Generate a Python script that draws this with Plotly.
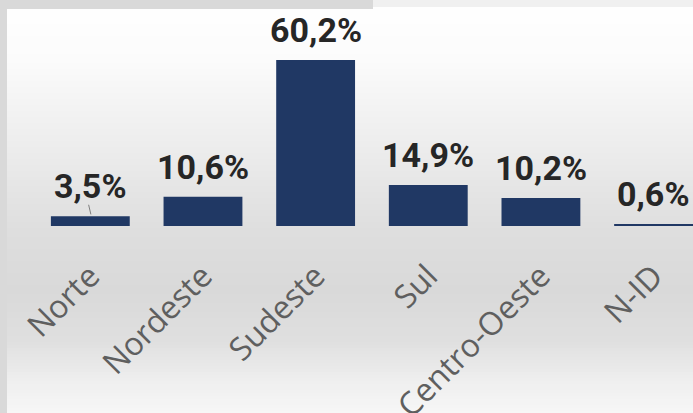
import plotly.graph_objects as go

# regions and share of total (%)
regioes = ["Norte", "Nordeste", "Sudeste", "Sul", "Centro-Oeste", "N-ID"]
percentuais = [3.5, 10.6, 60.2, 14.9, 10.2, 0.6]
rotulos = ["3,5%", "10,6%", "60,2%", "14,9%", "10,2%", "0,6%"]

W, H = 693, 413
ML, MB = 34, 187          # plot area: baseline sits at y = H - MB
plot_w, plot_h = W - ML, H - MB

# vertical background gradient (pixel row -> grey level)
stops = [(0, 255), (60, 251), (150, 236), (230, 222), (290, 217),
         (340, 223), (380, 238), (413, 247)]


def grey_at(p):
    for (a, ga), (b, gb) in zip(stops, stops[1:]):
        if a <= p <= b:
            g = ga + (gb - ga) * (p - a) / (b - a)
            return int(round(g))
    return stops[-1][1]


def px_to_paper_y(p):
    return (plot_h - p) / plot_h


def px_to_paper_x(p):
    return (p - ML) / plot_w


shapes = []
step = 3
for p in range(0, H, step):
    g = grey_at(p + step / 2)
    shapes.append(dict(
        type="rect", xref="paper", yref="paper", layer="below",
        x0=px_to_paper_x(7), x1=1.0,
        y0=px_to_paper_y(p + step), y1=px_to_paper_y(p),
        fillcolor=f"rgb({g},{g},{g})", line_width=0,
    ))

# window frame strips (top / left)
shapes.append(dict(type="rect", xref="paper", yref="paper", layer="below",
                   x0=px_to_paper_x(0), x1=px_to_paper_x(7),
                   y0=px_to_paper_y(H), y1=px_to_paper_y(0),
                   fillcolor="#d9d9d9", line_width=0))
shapes.append(dict(type="rect", xref="paper", yref="paper", layer="below",
                   x0=px_to_paper_x(0), x1=px_to_paper_x(373),
                   y0=px_to_paper_y(9), y1=px_to_paper_y(0),
                   fillcolor="#d9d9d9", line_width=0))
shapes.append(dict(type="rect", xref="paper", yref="paper", layer="below",
                   x0=px_to_paper_x(373), x1=1.0,
                   y0=px_to_paper_y(7), y1=px_to_paper_y(0),
                   fillcolor="#f0f0f0", line_width=0))

# small leader line between the "Norte" label and its bar
i_norte = regioes.index("Norte")
shapes.append(dict(type="line", xref="x", yref="y",
                   x0=i_norte - 0.015, x1=i_norte + 0.005,
                   y0=percentuais[i_norte] + 4.2, y1=percentuais[i_norte] + 0.7,
                   line=dict(color="#7f7f7f", width=1)))

fig = go.Figure(go.Bar(
    x=regioes,
    y=percentuais,
    marker=dict(color="#203864", line_width=0),
    hoverinfo="x+y",
))

# value labels sit a little above each bar
for reg, val, txt in zip(regioes, percentuais, rotulos):
    fig.add_annotation(
        x=reg, y=val, text=txt, showarrow=False,
        yanchor="bottom", yshift=8,
        font=dict(family="Roboto", size=34, color="#262626", weight="bold"),
    )

fig.update_layout(
    width=W, height=H,
    margin=dict(l=ML, r=0, t=0, b=MB),
    paper_bgcolor="#ffffff",
    plot_bgcolor="rgba(0,0,0,0)",
    bargap=0.30,
    showlegend=False,
    shapes=shapes,
)
fig.update_xaxes(
    range=[-0.5, 5.35],
    tickangle=-45,
    tickfont=dict(family="Open Sans", size=32, color="#5f5f5f"),
    ticklabelstandoff=24,
    automargin=False,
    showline=False, showgrid=False, zeroline=False,
)
fig.update_yaxes(range=[0, 82], visible=False, automargin=False)

fig.write_html("out.html", config={"displayModeBar": False},
               post_script="document.body.style.margin='0';")
